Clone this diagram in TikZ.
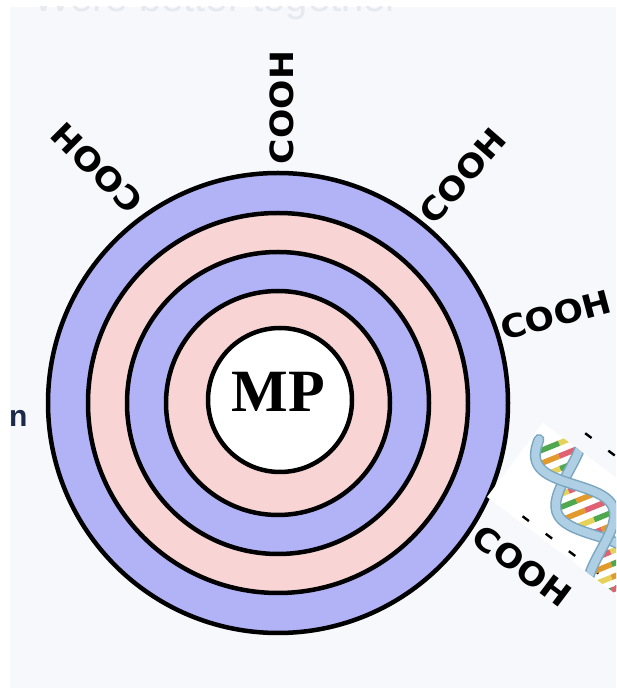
\documentclass[tikz,border=0pt]{standalone}
\usepackage{fontspec}
\usetikzlibrary{calc}
\newfontfamily\coohfont{DejaVu Sans}
\newfontfamily\mpfont{Liberation Serif}
\newfontfamily\labelfont{Liberation Sans}
\definecolor{ringblue}{HTML}{B2B2F7}
\definecolor{ringpink}{HTML}{F8D4D4}
\definecolor{pagebg}{HTML}{F6F8FB}
\definecolor{ghost}{HTML}{E6E9EE}
\definecolor{navy}{HTML}{1C2A4A}
\definecolor{ribbon}{HTML}{AFD0E4}
\definecolor{ribbonedge}{HTML}{7AA6C0}
\definecolor{baseY}{HTML}{E6D25A}
\definecolor{baseG}{HTML}{4FA84F}
\definecolor{baseR}{HTML}{E06272}
\definecolor{baseO}{HTML}{E2992E}
\tikzset{
  ring/.style={circle, draw=black, line width=4.5pt, inner sep=0pt},
  cooh/.style={font=\coohfont\bfseries\fontsize{32}{32}\selectfont, inner sep=0pt,
               text=black, xscale=1.08},
  strand/.style={line width=11pt, draw=ribbonedge, line cap=round},
  strandfill/.style={line width=8pt, draw=ribbon, line cap=round},
  rung/.style={line width=5.5pt},
  selframe/.style={line width=2.4pt, dash pattern=on 8pt off 21pt}
}
\begin{document}
\begin{tikzpicture}[x=1pt, y=1pt]
  \useasboundingbox (0,0) rectangle (616,688);
  \fill[white] (0,0) rectangle (616,688);
  \fill[pagebg] (10,0) rectangle (616,681);

  % faint heading behind the page edge
  \begin{scope}
    \clip (10,0) rectangle (616,681);
    \node[anchor=base west, text=ghost, inner sep=0pt,
          font=\labelfont\fontsize{40}{40}\selectfont] (title) at (33,676) {Were better together};
  \end{scope}

  % membrane layers around the core particle
  \coordinate (c) at (278,285);
  \node[ring, fill=ringblue, minimum size=460pt] (layerA) at (c) {};
  \node[ring, fill=ringpink, minimum size=380pt] (layerB) at (c) {};
  \node[ring, fill=ringblue, minimum size=302pt] (layerC) at (c) {};
  \node[ring, fill=ringpink, minimum size=224pt] (layerD) at (c) {};
  \node[ring, fill=white, minimum size=144pt] (core) at (280,288) {};
  \node[inner sep=0pt, font=\mpfont\bfseries\fontsize{60}{60}\selectfont] (mp) at (278,296) {MP};

  % carboxyl groups on the surface
  \node[rotate=90, cooh]  (g1) at (282,580.5) {COOH};
  \node[rotate=135, cooh] (g2) at (97,520) {COOH};
  \node[rotate=49, cooh]  (g3) at (463,512) {COOH};
  \node[rotate=15, cooh]  (g4) at (556,373) {COOH};
  \node[rotate=-37, cooh] (g5) at (522,122) {COOH};

  % word cut at the left edge
  \node[anchor=base west, inner sep=0pt, text=navy,
        font=\labelfont\bfseries\fontsize{30}{30}\selectfont] (cut) at (9,261) {n};

  % DNA clip-art with its selection frame
  \begin{scope}
    \clip (0,0) rectangle (616,688);
    \begin{scope}[shift={(487,191)}, rotate=-37]
      \fill[white] (0,0) rectangle (220,93);
      \coordinate (fa) at (40,6);
      \coordinate (fb) at (220,6);
      \coordinate (fc) at (40,110);
      \coordinate (fd) at (220,110);
      \draw[selframe] (fa) -- (fb);
      \draw[selframe] (fc) -- (fd);
    \end{scope}
    \begin{scope}
      \clip[shift={(487,191)}, rotate=-37] (0,0) rectangle (220,93);
      \begin{scope}[shift={(556,250)}, rotate=-68]
        \foreach \i/\ca/\cb in {0/baseY/baseG, 1/baseR/baseO, 2/baseG/baseY,
                                3/baseO/baseY, 4/baseY/baseR, 5/baseG/baseO,
                                6/baseO/baseR, 7/baseY/baseG, 8/baseR/baseO,
                                9/baseO/baseG, 10/baseY/baseR, 11/baseG/baseO,
                                12/baseO/baseY, 13/baseR/baseG} {
          \pgfmathsetmacro\xx{6+\i*12}
          \pgfmathsetmacro\ya{27*cos(2.57*\xx)}
          \pgfmathsetmacro\yb{27*cos(2.57*\xx+140)}
          \pgfmathsetmacro\ym{(\ya+\yb)/2}
          \draw[rung, \ca] (\xx,\ya) -- (\xx,\ym);
          \draw[rung, \cb] (\xx,\ym) -- (\xx,\yb);
        }
        \draw[strand] plot[domain=-5:175, samples=90] (\x, {27*cos(2.57*\x)});
        \draw[strandfill] plot[domain=-5:175, samples=90] (\x, {27*cos(2.57*\x)});
        \draw[strand] plot[domain=-5:175, samples=90] (\x, {27*cos(2.57*\x+140)});
        \draw[strandfill] plot[domain=-5:175, samples=90] (\x, {27*cos(2.57*\x+140)});
      \end{scope}
    \end{scope}
  \end{scope}
\end{tikzpicture}
\end{document}
